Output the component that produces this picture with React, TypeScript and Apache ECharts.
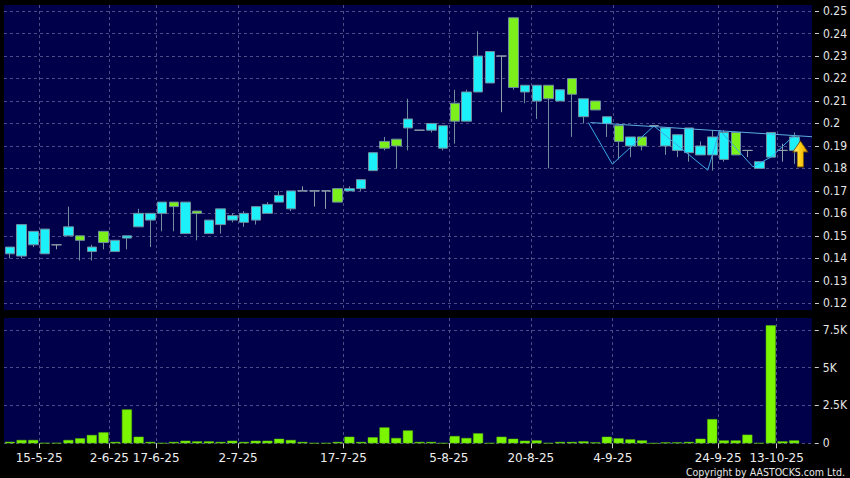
import React, { useEffect, useRef } from "react";
import * as echarts from "echarts";

// ---- data ----
const slotCount = 69; // 68 trading days with trades + one empty slot at the right
const tickDates = ["15-5-25", "2-6-25", "17-6-25", "2-7-25", "17-7-25", "5-8-25", "20-8-25", "4-9-25", "24-9-25", "13-10-25"];
const tickSlots = [3, 9, 13, 20, 29, 38, 45, 52, 61, 66];

const opens = [0.142, 0.141, 0.146, 0.142, 0.146, 0.15, 0.15, 0.143, 0.152, 0.143, 0.149, 0.154, 0.157, 0.16, 0.165, 0.151, 0.161, 0.151, 0.155, 0.157, 0.156, 0.157, 0.16, 0.165, 0.162, 0.17, 0.17, 0.17, 0.171, 0.17, 0.171, 0.179, 0.192, 0.193, 0.198, 0.197, 0.197, 0.189, 0.209, 0.201, 0.214, 0.218, 0.23, 0.247, 0.214, 0.21, 0.217, 0.21, 0.22, 0.203, 0.21, 0.2, 0.199, 0.19, 0.194, 0.199, 0.19, 0.188, 0.187, 0.186, 0.186, 0.184, 0.196, 0.188, 0.18, 0.185, 0.188, 0.188];
const closes = [0.145, 0.155, 0.152, 0.153, 0.146, 0.154, 0.148, 0.145, 0.147, 0.148, 0.15, 0.16, 0.16, 0.165, 0.163, 0.165, 0.16, 0.157, 0.162, 0.159, 0.16, 0.163, 0.164, 0.168, 0.17, 0.17, 0.17, 0.17, 0.165, 0.171, 0.175, 0.187, 0.189, 0.19, 0.202, 0.197, 0.2, 0.199, 0.201, 0.214, 0.23, 0.232, 0.23, 0.216, 0.217, 0.217, 0.211, 0.215, 0.213, 0.211, 0.206, 0.203, 0.192, 0.194, 0.19, 0.199, 0.198, 0.195, 0.198, 0.19, 0.194, 0.196, 0.186, 0.188, 0.183, 0.196, 0.188, 0.194];
const lows = [0.14, 0.14, 0.145, 0.142, 0.144, 0.15, 0.139, 0.139, 0.144, 0.143, 0.144, 0.154, 0.145, 0.152, 0.152, 0.151, 0.148, 0.151, 0.151, 0.156, 0.154, 0.155, 0.16, 0.165, 0.161, 0.17, 0.163, 0.162, 0.165, 0.17, 0.17, 0.179, 0.188, 0.18, 0.188, 0.197, 0.196, 0.188, 0.191, 0.201, 0.214, 0.218, 0.205, 0.215, 0.209, 0.202, 0.18, 0.21, 0.194, 0.2, 0.206, 0.194, 0.184, 0.185, 0.188, 0.199, 0.186, 0.185, 0.183, 0.186, 0.179, 0.183, 0.186, 0.185, 0.18, 0.185, 0.183, 0.182];
const highs = [0.145, 0.155, 0.152, 0.153, 0.146, 0.163, 0.15, 0.146, 0.152, 0.148, 0.15, 0.162, 0.16, 0.165, 0.165, 0.165, 0.161, 0.157, 0.162, 0.16, 0.161, 0.163, 0.165, 0.17, 0.17, 0.172, 0.17, 0.17, 0.171, 0.172, 0.175, 0.187, 0.194, 0.193, 0.211, 0.197, 0.2, 0.199, 0.215, 0.215, 0.241, 0.232, 0.23, 0.247, 0.217, 0.217, 0.217, 0.215, 0.22, 0.211, 0.21, 0.203, 0.199, 0.194, 0.194, 0.199, 0.198, 0.195, 0.198, 0.192, 0.197, 0.197, 0.196, 0.188, 0.183, 0.196, 0.191, 0.196];
const volumes = [100, 220, 220, 20, 20, 220, 330, 550, 725, 90, 2240, 435, 90, 10, 90, 170, 130, 130, 90, 170, 90, 170, 170, 300, 220, 90, 10, 10, 90, 435, 90, 400, 1050, 350, 850, 90, 90, 10, 480, 350, 660, 10, 435, 300, 170, 190, 10, 90, 90, 130, 60, 435, 330, 260, 190, 0, 60, 60, 90, 300, 1600, 190, 190, 570, 10, 7800, 130, 190];

// drawn trend lines (x in slot units, y price)
const zigzagX = [49.9, 51.95, 55.5, 60.1, 61.12, 63.96, 65.52, 67.51];
const zigzagY = [0.2004, 0.1819, 0.1989, 0.1792, 0.197, 0.1807, 0.1851, 0.1948];
const resistX = [50.08, 69.0];
const resistY = [0.2004, 0.1941];

const priceTicks = [0.12, 0.13, 0.14, 0.15, 0.16, 0.17, 0.18, 0.19, 0.2, 0.21, 0.22, 0.23, 0.24, 0.25];
const volumeTicks = [0, 2500, 5000, 7500];

export default function App() {
  const ref = useRef<HTMLDivElement>(null);
  useEffect(() => {
    if (!ref.current) return;
    const chart = echarts.init(ref.current, undefined, { renderer: "svg" });
    const slots = Array.from({ length: slotCount }, (_, i) => String(i));
    const bounds = Array.from({ length: slotCount + 1 }, (_, i) => String(i));
    const labelOf: Record<string, string> = {};
    tickSlots.forEach((s, i) => (labelOf[String(s)] = tickDates[i]));
    const isTick = (idx: number) => labelOf[String(idx)] !== undefined;

    const candleData = opens.map((o, i) => [o, closes[i], lows[i], highs[i]]);
    const last = opens.length - 1;

    const gridLine = { show: true, lineStyle: { color: "#4c4c86", type: [3, 3] as any, width: 1 } };
    const font = "DejaVu Sans";
    const condensed = "'DejaVu Sans Condensed', 'DejaVu Sans'";

    const yAxisCommon = {
      type: "value",
      position: "right",
      offset: 3,
      axisLine: { show: false, onZero: false },
      axisTick: { show: true, length: 4, lineStyle: { color: "#d0d0d0", width: 1 } },
      axisLabel: { color: "#e6e6e6", fontFamily: condensed, fontSize: 12, margin: 8 },
      splitLine: gridLine,
    };

    chart.setOption({
      animation: false,
      backgroundColor: "#000000",
      grid: [
        { left: 4, right: 36, top: 5, height: 305, show: true, backgroundColor: "#00004a", borderWidth: 0 },
        { left: 4, right: 36, top: 318, height: 125.3, show: true, backgroundColor: "#00004a", borderWidth: 0 },
      ],
      xAxis: [
        { type: "category", gridIndex: 0, position: "top", data: slots, boundaryGap: true, show: false },
        {
          type: "category", gridIndex: 0, position: "bottom", data: bounds, boundaryGap: false,
          axisLine: { show: false, onZero: false }, axisTick: { show: false }, axisLabel: { show: false },
          splitLine: { ...gridLine, interval: (i: number) => isTick(i) },
        },
        { type: "value", gridIndex: 0, min: 0, max: slotCount, show: false, axisLine: { onZero: false } },
        { type: "category", gridIndex: 1, position: "top", data: slots, boundaryGap: true, show: false },
        {
          type: "category", gridIndex: 1, position: "bottom", data: bounds, boundaryGap: false,
          axisLine: { show: false, onZero: false },
          axisTick: { show: true, length: 5, interval: (i: number) => isTick(i), lineStyle: { color: "#d0d0d0" } },
          axisLabel: {
            interval: (i: number) => isTick(i), color: "#eeeeee", fontFamily: font, fontSize: 12, margin: 8,
            lineHeight: 13,
            formatter: (v: string) => labelOf[v] || "",
          },
          splitLine: { ...gridLine, interval: (i: number) => isTick(i) },
        },
      ],
      yAxis: [
        {
          ...yAxisCommon, gridIndex: 0, min: 0.117, max: 0.2527,
          axisTick: { ...yAxisCommon.axisTick, customValues: priceTicks },
          axisLabel: { ...yAxisCommon.axisLabel, customValues: priceTicks, formatter: (v: number) => String(+v.toFixed(2)) },
        },
        {
          ...yAxisCommon, gridIndex: 1, min: 0, max: 8287,
          axisTick: { ...yAxisCommon.axisTick, customValues: volumeTicks },
          axisLabel: { ...yAxisCommon.axisLabel, customValues: volumeTicks, formatter: (v: number) => (v === 0 ? "0" : v / 1000 + "K") },
        },
      ],
      series: [
        {
          type: "candlestick", xAxisIndex: 0, yAxisIndex: 0, data: candleData, barWidth: 10,
          itemStyle: {
            color: "#1ef0fa", color0: "#7cf01a", borderColor: "#6f8ea0", borderColor0: "#6f8ea0",
            borderColorDoji: "#8fa0aa", borderWidth: 1,
          },
          markPoint: {
            silent: true,
            data: [
              {
                coord: [String(last), lows[last]],
                symbol: "path://M7,0 L14,11 L10,11 L10,26 L4,26 L4,11 L0,11 Z",
                symbolSize: [15, 26],
                symbolOffset: [6, -10],
                itemStyle: {
                  color: new echarts.graphic.LinearGradient(0, 0, 1, 0, [
                    { offset: 0, color: "#fff4a0" },
                    { offset: 0.45, color: "#ffd21a" },
                    { offset: 1, color: "#e6a000" },
                  ]),
                  borderColor: "#6a4a00", borderWidth: 0.8,
                },
                label: { show: false },
              },
            ],
          },
        },
        {
          type: "line", xAxisIndex: 2, yAxisIndex: 0, symbol: "none",
          data: zigzagX.map((x, i) => [x, zigzagY[i]]),
          lineStyle: { color: "#3aa8e8", width: 1 },
        },
        {
          type: "line", xAxisIndex: 2, yAxisIndex: 0, symbol: "none",
          data: resistX.map((x, i) => [x, resistY[i]]),
          lineStyle: { color: "#5aaedc", width: 1 },
        },
        {
          type: "bar", xAxisIndex: 3, yAxisIndex: 1, data: volumes, barWidth: 10,
          itemStyle: { color: "#7cf500", borderColor: "#5cc000", borderWidth: 0.5 },
        },
      ],
      graphic: [
        {
          type: "text", right: 5, top: 466,
          style: { text: "Copyright by AASTOCKS.com Ltd.", fill: "#e6e6e6", font: `10.5px ${condensed}` },
        },
      ],
    });
    return () => chart.dispose();
  }, []);
  return <div ref={ref} style={{ position: "fixed", left: 0, top: 0, width: 850, height: 478, background: "#000" }} />;
}
